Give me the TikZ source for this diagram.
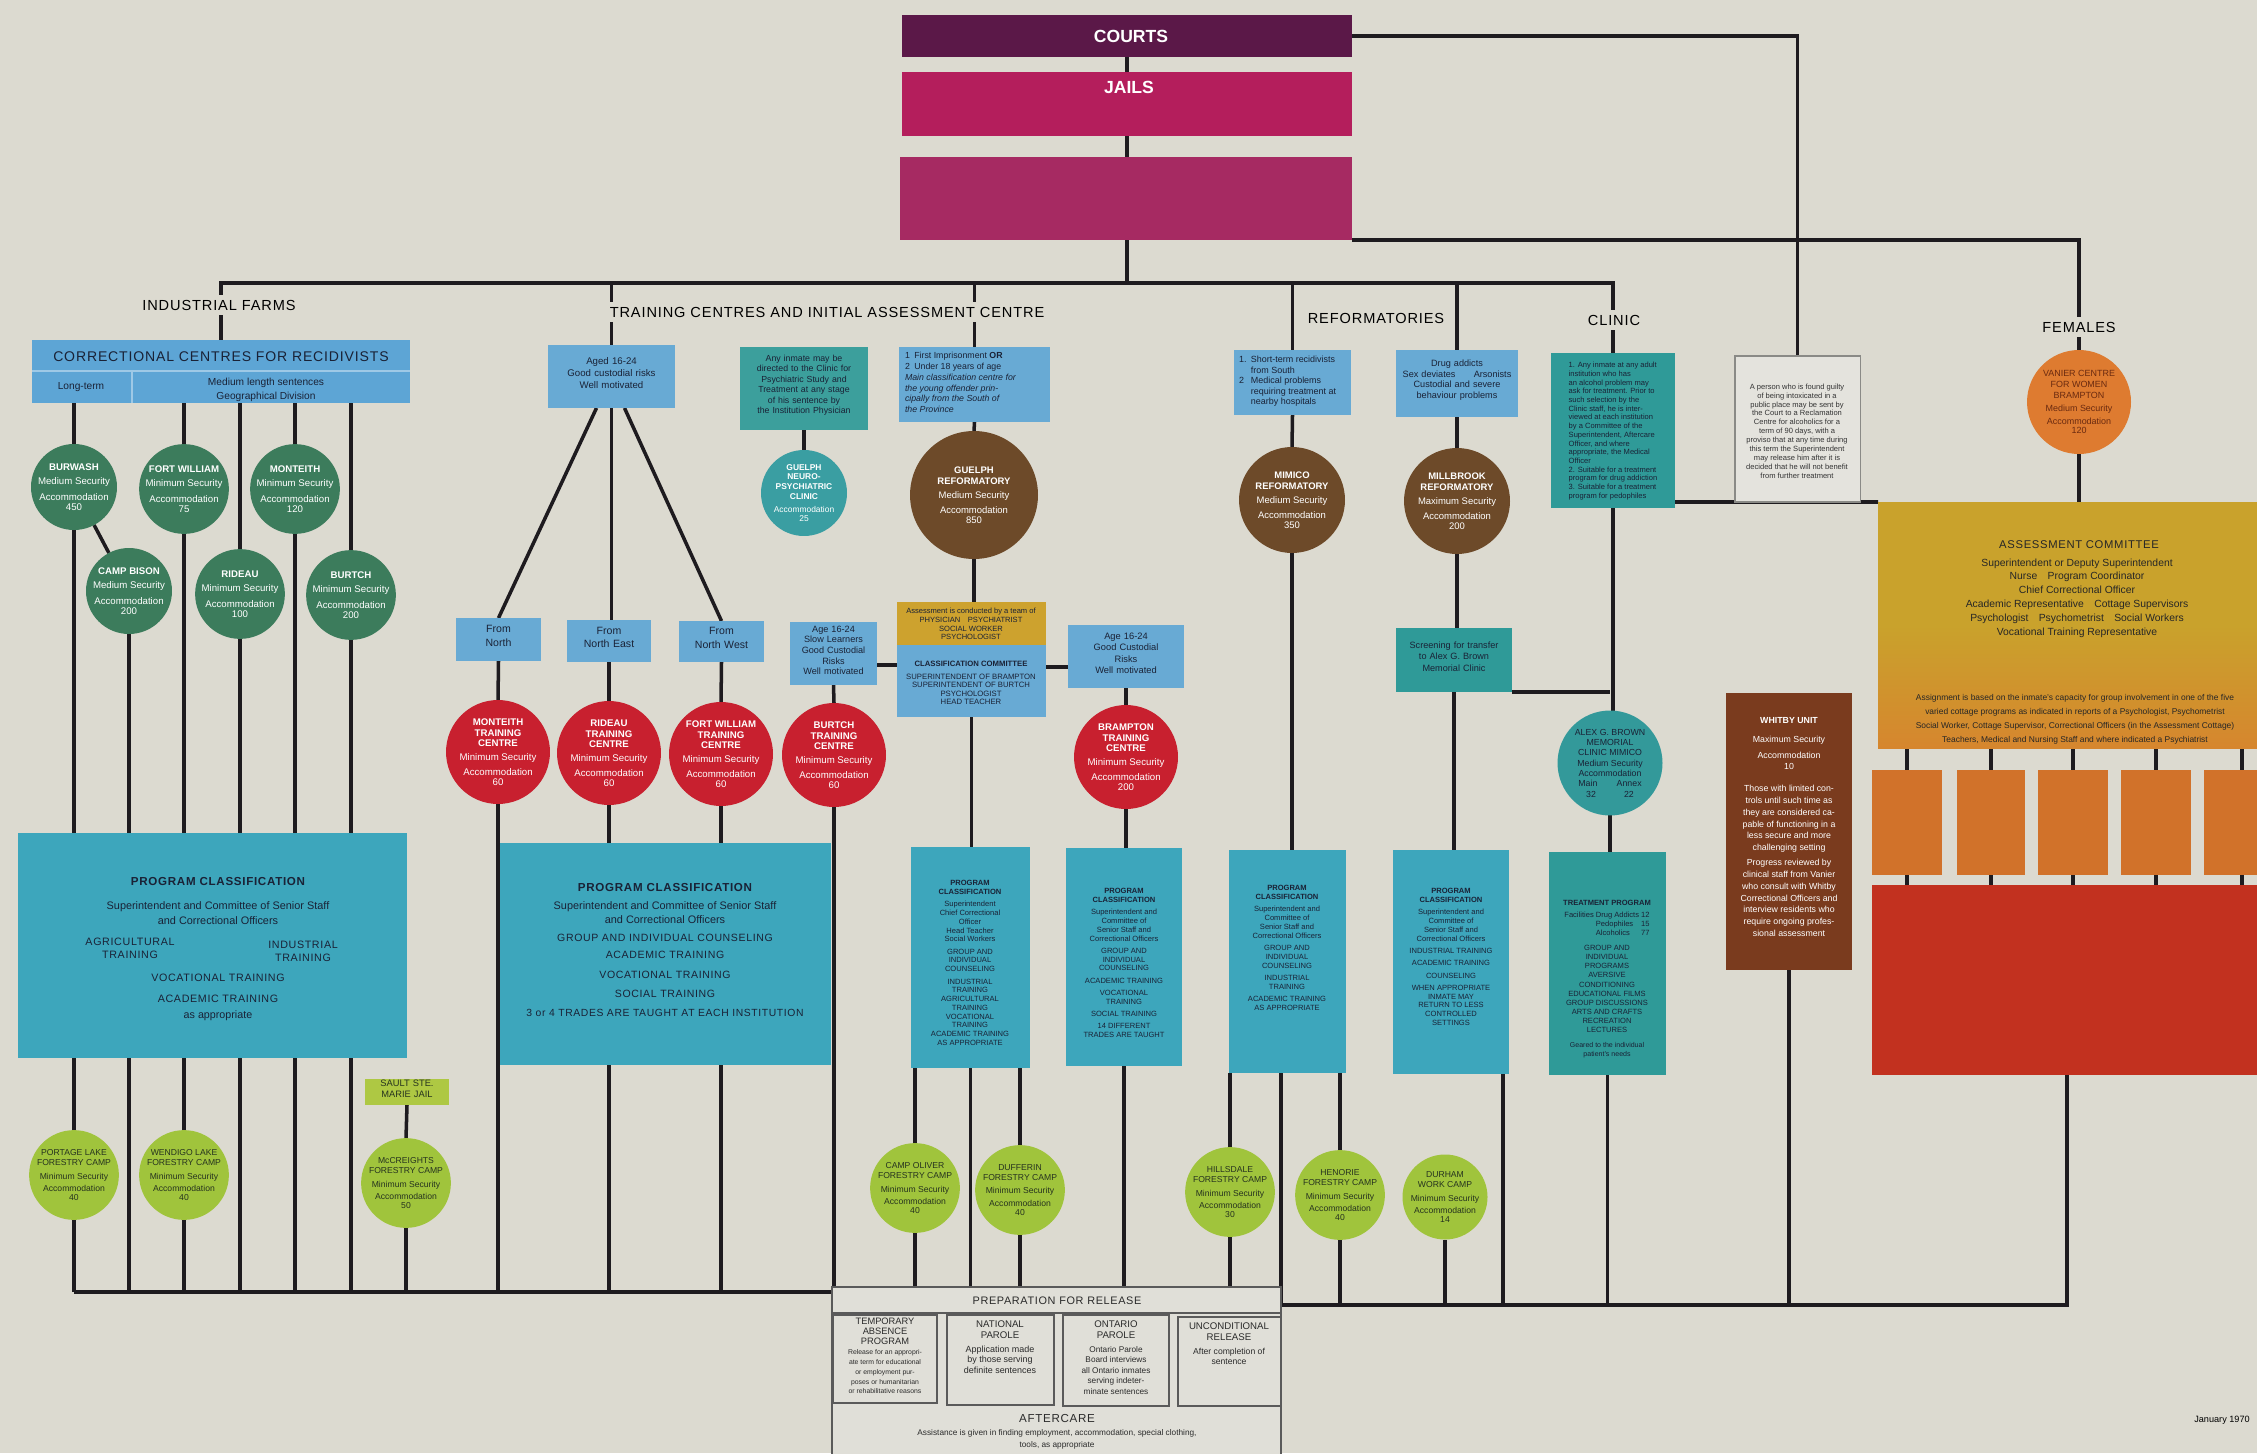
\documentclass[tikz,border=0pt]{standalone}
\usepackage{fontspec}
\setmainfont{Liberation Sans}
\newfontfamily\spc[LetterSpace=6]{Liberation Sans}
\usetikzlibrary{fit}
\pgfdeclarelayer{bg}
\pgfdeclarelayer{lines}
\pgfsetlayers{bg,lines,main}
\definecolor{paper}{HTML}{DCDAD0}
\definecolor{lk}{HTML}{1E1B1F}
\definecolor{navy}{HTML}{1A2236}
\definecolor{ccrc}{HTML}{5DA5D5}
\definecolor{lblue}{HTML}{68AAD4}
\definecolor{pteal}{HTML}{3DA6BC}
\definecolor{dteal}{HTML}{2F9A98}
\definecolor{psteal}{HTML}{3C9F9C}
\definecolor{gcol}{HTML}{3C7C5C}
\definecolor{lcol}{HTML}{A0C43C}
\definecolor{ltx}{HTML}{26331F}
\definecolor{saultc}{HTML}{AEC843}
\definecolor{rcol}{HTML}{C8202F}
\definecolor{brcol}{HTML}{6D4A29}
\definecolor{neuroc}{HTML}{3A9EA2}
\definecolor{alexc}{HTML}{33999A}
\definecolor{vanc}{HTML}{DE7B30}
\definecolor{vantx}{HTML}{6A2A10}
\definecolor{courtc}{HTML}{5B1848}
\definecolor{jailc}{HTML}{B41E5C}
\definecolor{regc}{HTML}{A62A62}
\definecolor{goldc}{HTML}{CDA22E}
\definecolor{acTop}{HTML}{C9A22C}
\definecolor{acBot}{HTML}{D6862E}
\definecolor{whitbyc}{HTML}{7A3B1E}
\definecolor{cotc}{HTML}{D1722A}
\definecolor{redc}{HTML}{C2311F}
\definecolor{notec}{HTML}{E4E3DD}
\definecolor{noted}{HTML}{8A8A86}
\definecolor{prepc}{HTML}{E0DFD8}
\definecolor{prepd}{HTML}{5A5A5A}
\definecolor{prtx}{HTML}{2B2B2B}
\newcommand\fsz[2]{\fontsize{#1}{#2}\selectfont}
% circle text: node font is bold, so name lines are bold; later lines switch back
\newcommand\cirtx[3]{#1\\[1.6pt]\mdseries #2\\[2.6pt]\mdseries Accommodation\\[-0.8pt]\mdseries #3}
\newcommand\limtx[3]{#1\\[2pt]#2\\[1.6pt]Accommodation\\[-0.8pt]#3}
\tikzset{
  ln/.style={draw=lk,line width=2pt},
  fb/.style={inner sep=0pt,outer sep=0pt},
  tx/.style={inner sep=0pt,outer sep=0pt,align=center,text=navy},
  ttl/.style={inner sep=2.5pt,fill=paper,text=black,font=\spc\fsz{8.3}{10}},
  cir/.style={circle,inner sep=0pt,outer sep=0pt,align=center},
  gc/.style={cir,fill=gcol,minimum size=1.72cm,text=white,font=\bfseries\fsz{5.5}{6.5}},
  lc/.style={cir,fill=lcol,minimum size=1.70cm,text=ltx,font=\fsz{4.9}{5.7}},
  rc/.style={cir,fill=rcol,minimum size=2.08cm,text=white,font=\bfseries\fsz{5.5}{6.1}},
  bc/.style={cir,fill=brcol,minimum size=2.12cm,text=white,font=\bfseries\fsz{5.4}{6.2}},
  lb/.style={fb,fill=lblue},
  pb/.style={fb,fill=pteal},
  prb/.style={fb,draw=prepd,line width=0.9pt},
}
\begin{document}
\begin{tikzpicture}[x=0.02cm,y=-0.02cm]
\useasboundingbox (0,0) rectangle (2257,1453);
\begin{pgfonlayer}{bg}
\fill[paper] (0,0) rectangle (2257,1453);
\end{pgfonlayer}

% ===== top boxes
\node[fb,fill=courtc,fit={(902,15)(1352,57)}] (courts) {};
\node[tx,text=white,font=\bfseries\fsz{10}{12}] (courtsT) at (1131,36) {COURTS};
\node[fb,fill=jailc,fit={(902,72)(1352,136)}] (jails) {};
\node[tx,text=white,font=\bfseries\fsz{10}{12}] (jailsT) at (1129,87) {JAILS};
\node[fb,fill=regc,fit={(900,157)(1352,240)}] (reg) {};

% ===== section titles
\node[ttl] (tIF) at (219,305) {INDUSTRIAL FARMS};
\node[ttl] (tTC) at (827,312) {TRAINING CENTRES AND INITIAL ASSESSMENT CENTRE};
\node[ttl] (tRF) at (1376,318) {REFORMATORIES};
\node[ttl] (tCL) at (1614,320) {CLINIC};
\node[ttl] (tFE) at (2079,327) {FEMALES};

% ===== industrial farms
\node[fb,fill=ccrc,fit={(32,340)(410,403)}] (ccr) {};
\draw[draw=ccrc!60!white,line width=0.6pt] (32,371) -- (410,371) (132,371) -- (132,403);
\node[tx,font=\spc\fsz{8}{10}] (ccrT) at (221,357) {CORRECTIONAL CENTRES FOR RECIDIVISTS};
\node[tx,font=\fsz{5.8}{7}] (ccrL) at (81,387) {Long-term};
\node[tx,font=\fsz{5.8}{7.6}] (ccrM) at (266,390) {Medium length sentences\\Geographical Division};

\node[gc] (burwash) at (74,487) {\cirtx{BURWASH}{Medium Security}{450}};
\node[gc] (fortw) at (184,489) {\cirtx{FORT WILLIAM}{Minimum Security}{75}};
\node[gc] (monteith) at (295,489) {\cirtx{MONTEITH}{Minimum Security}{120}};
\node[gc] (campbison) at (129,591) {\cirtx{CAMP BISON}{Medium Security}{200}};
\node[gc] (rideau) at (240,594) {\cirtx{RIDEAU}{Minimum Security}{100}};
\node[gc] (burtch) at (351,595) {\cirtx{BURTCH}{Minimum Security}{200}};

\node[pb,fit={(18,833)(407,1058)}] (pc1) {};
\node[tx,font=\bfseries\spc\fsz{6.6}{8}] (pc1a) at (218,881) {PROGRAM CLASSIFICATION};
\node[tx,font=\fsz{6.2}{8.3}] (pc1b) at (218,913) {Superintendent and Committee of Senior Staff\\and Correctional Officers};
\node[tx,font=\spc\fsz{6.1}{7.4}] (pc1c) at (130,948) {AGRICULTURAL\\TRAINING};
\node[tx,font=\spc\fsz{6.1}{7.4}] (pc1d) at (303,951) {INDUSTRIAL\\TRAINING};
\node[tx,font=\spc\fsz{6.1}{7.4}] (pc1e) at (218,978) {VOCATIONAL TRAINING};
\node[tx,font=\spc\fsz{6.1}{7.4}] (pc1f) at (218,999) {ACADEMIC TRAINING};
\node[tx,font=\fsz{6.1}{7.4}] (pc1g) at (218,1016) {as appropriate};

\node[lc] (portage) at (74,1175) {\limtx{PORTAGE LAKE\\FORESTRY CAMP}{Minimum Security}{40}};
\node[lc] (wendigo) at (184,1175) {\limtx{WENDIGO LAKE\\FORESTRY CAMP}{Minimum Security}{40}};
\node[fb,fill=saultc,fit={(365,1079)(449,1105)},tx,text=ltx,font=\fsz{5.3}{5.9}] (sault) {SAULT STE.\\MARIE JAIL};
\node[lc] (mccreights) at (406,1183) {\limtx{McCREIGHTS\\FORESTRY CAMP}{Minimum Security}{50}};

% ===== training centres
\node[lb,fit={(548,345)(675,408)},tx,font=\fsz{5.5}{6.8}] (aged) {Aged 16-24\\Good custodial risks\\Well motivated};
\node[lb,fit={(456,618)(541,661)},tx,font=\fsz{6}{7.5}] (fromN) {From\\North};
\node[lb,fit={(567,620)(651,662)},tx,font=\fsz{6}{7.5}] (fromNE) {From\\North East};
\node[lb,fit={(679,621)(764,662)},tx,font=\fsz{6}{7.5}] (fromNW) {From\\North West};
\node[rc] (montTC) at (498,752) {\cirtx{MONTEITH\\TRAINING\\CENTRE}{Minimum Security}{60}};
\node[rc] (rideauTC) at (609,753) {\cirtx{RIDEAU\\TRAINING\\CENTRE}{Minimum Security}{60}};
\node[rc] (fwTC) at (721,754) {\cirtx{FORT WILLIAM\\TRAINING\\CENTRE}{Minimum Security}{60}};
\node[rc] (burtchTC) at (834,755) {\cirtx{BURTCH\\TRAINING\\CENTRE}{Minimum Security}{60}};

\node[pb,fit={(500,843)(831,1065)}] (pc2) {};
\node[tx,font=\bfseries\spc\fsz{6.6}{8}] (pc2a) at (665,887) {PROGRAM CLASSIFICATION};
\node[tx,font=\fsz{6.2}{8}] (pc2b) at (665,913) {Superintendent and Committee of Senior Staff\\and Correctional Officers};
\node[tx,font=\spc\fsz{6}{7}] (pc2c) at (665,938) {GROUP AND INDIVIDUAL COUNSELING};
\node[tx,font=\spc\fsz{6}{7}] (pc2d) at (665,955) {ACADEMIC TRAINING};
\node[tx,font=\spc\fsz{6}{7}] (pc2e) at (665,975) {VOCATIONAL TRAINING};
\node[tx,font=\spc\fsz{6}{7}] (pc2f) at (665,994) {SOCIAL TRAINING};
\node[tx,font=\spc\fsz{5.9}{7}] (pc2g) at (665,1013) {3 or 4 TRADES ARE TAUGHT AT EACH INSTITUTION};

\node[fb,fill=psteal,fit={(740,347)(868,430)},tx,font=\fsz{5}{6}] (psych) {Any inmate may be\\directed to the Clinic for\\Psychiatric Study and\\Treatment at any stage\\of his sentence by\\the Institution Physician};
\node[cir,fill=neuroc,minimum size=1.72cm,text=white,font=\bfseries\fsz{4.8}{5.6}] (neuro) at (804,493) {GUELPH\\NEURO-\\PSYCHIATRIC\\CLINIC\\[2pt]\mdseries Accommodation\\[-0.6pt]\mdseries 25};

\node[lb,fit={(899,347)(1050,422)}] (first) {};
\node[tx,align=left,anchor=north west,font=\fsz{5}{6.2}] (firstT) at (905,352) {1\enspace First Imprisonment \textbf{OR}\\2\enspace Under 18 years of age\\\itshape Main classification centre for\\\itshape the young offender prin-\\\itshape cipally from the South of\\\itshape the Province};
\node[bc,minimum size=2.56cm] (guelphR) at (974,495) {\cirtx{GUELPH\\REFORMATORY}{Medium Security}{850}};
\node[fb,fill=goldc,fit={(897,602)(1046,645)}] (assessY) {};
\node[tx,font=\fsz{4.3}{4.9}] (assessYT) at (971,624) {Assessment is conducted by a team of\\PHYSICIAN\quad PSYCHIATRIST\\SOCIAL WORKER\\PSYCHOLOGIST};
\node[lb,fit={(897,645)(1046,717)}] (classC) {};
\node[tx,font=\fsz{4.4}{4.8}] (classCT) at (971,683) {\textbf{CLASSIFICATION COMMITTEE}\\[2.5pt]SUPERINTENDENT OF BRAMPTON\\SUPERINTENDENT OF BURTCH\\PSYCHOLOGIST\\HEAD TEACHER};
\node[lb,fit={(790,622)(877,685)},tx,font=\fsz{5.2}{6.1}] (slow) {Age 16-24\\Slow Learners\\Good Custodial\\Risks\\Well motivated};
\node[lb,fit={(1068,625)(1184,688)},tx,font=\fsz{5.3}{6.6}] (bage) {Age 16-24\\Good Custodial\\Risks\\Well motivated};
\node[rc] (bramTC) at (1126,757) {\cirtx{BRAMPTON\\TRAINING\\CENTRE}{Minimum Security}{200}};

\node[pb,fit={(911,847)(1030,1068)}] (pcG) {};
\node[tx,font=\fsz{4.3}{5}] (pcGT) at (970,963) {\textbf{PROGRAM}\\\textbf{CLASSIFICATION}\\[2pt]Superintendent\\Chief Correctional\\Officer\\Head Teacher\\Social Workers\\[2pt]GROUP AND\\INDIVIDUAL\\COUNSELING\\[2pt]INDUSTRIAL\\TRAINING\\AGRICULTURAL\\TRAINING\\VOCATIONAL\\TRAINING\\ACADEMIC TRAINING\\AS APPROPRIATE};
\node[pb,fit={(1066,848)(1182,1066)}] (pcB) {};
\node[tx,font=\fsz{4.3}{5}] (pcBT) at (1124,963) {\textbf{PROGRAM}\\\textbf{CLASSIFICATION}\\[2pt]Superintendent and\\Committee of\\Senior Staff and\\Correctional Officers\\[2pt]GROUP AND\\INDIVIDUAL\\COUNSELING\\[2pt]ACADEMIC TRAINING\\[2pt]VOCATIONAL\\TRAINING\\[2pt]SOCIAL TRAINING\\[2pt]14 DIFFERENT\\TRADES ARE TAUGHT};
\node[lc] (oliver) at (915,1188) {\limtx{CAMP OLIVER\\FORESTRY CAMP}{Minimum Security}{40}};
\node[lc] (dufferin) at (1020,1190) {\limtx{DUFFERIN\\FORESTRY CAMP}{Minimum Security}{40}};

% ===== preparation for release
\node[prb,fill=prepc,fit={(832,1287)(1281,1470)}] (prep) {};
\draw[draw=prepd,line width=0.9pt] (832,1313) -- (1281,1313);
\node[tx,text=prtx,font=\spc\fsz{6.2}{7}] (prepT) at (1057,1301) {PREPARATION FOR RELEASE};
\node[prb,fit={(833,1315)(937,1403)}] (ta) {};
\node[prb,fit={(947,1315)(1054,1405)}] (np) {};
\node[prb,fit={(1063,1315)(1169,1406)}] (op) {};
\node[prb,fit={(1178,1317)(1281,1406)}] (ur) {};
\node[tx,text=prtx,anchor=north,font=\fsz{5.3}{5.6}] (taT) at (885,1318) {TEMPORARY\\ABSENCE\\PROGRAM\\[0.3pt]\fsz{3.9}{4.6}Release for an appropri-\\\fsz{3.9}{4.6}ate term for educational\\\fsz{3.9}{4.6}or employment pur-\\\fsz{3.9}{4.6}poses or humanitarian\\\fsz{3.9}{4.6}or rehabilitative reasons};
\node[tx,text=prtx,anchor=north,font=\fsz{5.5}{6}] (npT) at (1000,1321) {NATIONAL\\PAROLE\\[2pt]\fsz{5.1}{6}Application made\\\fsz{5.1}{6}by those serving\\\fsz{5.1}{6}definite sentences};
\node[tx,text=prtx,anchor=north,font=\fsz{5.5}{6}] (opT) at (1116,1321) {ONTARIO\\PAROLE\\[2pt]\fsz{4.7}{5.8}Ontario Parole\\\fsz{4.7}{5.8}Board interviews\\\fsz{4.7}{5.8}all Ontario inmates\\\fsz{4.7}{5.8}serving indeter-\\\fsz{4.7}{5.8}minate sentences};
\node[tx,text=prtx,anchor=north,font=\fsz{5.5}{6}] (urT) at (1229,1323) {UNCONDITIONAL\\RELEASE\\[2pt]\fsz{4.9}{6}After completion of\\\fsz{4.9}{6}sentence};
\node[tx,text=prtx,font=\spc\fsz{6.6}{7.5}] (afterT) at (1057,1418) {AFTERCARE};
\node[tx,text=prtx,font=\fsz{4.7}{7}] (afterS) at (1057,1439) {Assistance is given in finding employment, accommodation, special clothing,\\tools, as appropriate};

% ===== reformatories
\node[lb,fit={(1234,350)(1351,415)}] (st) {};
\node[tx,align=left,anchor=north west,font=\fsz{5.1}{6}] (stT) at (1239,356) {1.\enspace Short-term recidivists\\\phantom{1.}\enspace from South\\2\enspace\phantom{.}Medical problems\\\phantom{2.}\enspace requiring treatment at\\\phantom{2.}\enspace nearby hospitals};
\node[lb,fit={(1396,350)(1518,417)},tx,font=\fsz{5.2}{6.1}] (drug) {Drug addicts\\Sex deviates\qquad Arsonists\\Custodial and severe\\behaviour problems};
\node[bc] (mimico) at (1292,500) {\cirtx{MIMICO\\REFORMATORY}{Medium Security}{350}};
\node[bc] (millbrook) at (1457,501) {\cirtx{MILLBROOK\\REFORMATORY}{Maximum Security}{200}};
\node[fb,fill=dteal,fit={(1396,628)(1512,692)},tx,font=\fsz{5.2}{6.4}] (screen) {Screening for transfer\\to Alex G. Brown\\Memorial Clinic};
\node[pb,fit={(1229,850)(1346,1073)}] (pcM) {};
\node[tx,font=\fsz{4.3}{5}] (pcMT) at (1287,948) {\textbf{PROGRAM}\\\textbf{CLASSIFICATION}\\[2pt]Superintendent and\\Committee of\\Senior Staff and\\Correctional Officers\\[2pt]GROUP AND\\INDIVIDUAL\\COUNSELING\\[2pt]INDUSTRIAL\\TRAINING\\[2pt]ACADEMIC TRAINING\\AS APPROPRIATE};
\node[pb,fit={(1393,850)(1509,1074)}] (pcMb) {};
\node[tx,font=\fsz{4.3}{5}] (pcMbT) at (1451,957) {\textbf{PROGRAM}\\\textbf{CLASSIFICATION}\\[2pt]Superintendent and\\Committee of\\Senior Staff and\\Correctional Officers\\[2pt]INDUSTRIAL TRAINING\\[2pt]ACADEMIC TRAINING\\[2pt]COUNSELING\\[2pt]WHEN APPROPRIATE\\INMATE MAY\\RETURN TO LESS\\CONTROLLED\\SETTINGS};
\node[lc] (hillsdale) at (1230,1192) {\limtx{HILLSDALE\\FORESTRY CAMP}{Minimum Security}{30}};
\node[lc] (henorie) at (1340,1195) {\limtx{HENORIE\\FORESTRY CAMP}{Minimum Security}{40}};
\node[lc] (durham) at (1445,1197) {\limtx{DURHAM\\WORK CAMP}{Minimum Security}{14}};

% ===== clinic
\node[fb,fill=dteal,fit={(1551,353)(1675,508)}] (clinic) {};
\node[tx,align=left,font=\fsz{4.3}{4.95}] (clinicT) at (1613,431) {1. Any inmate at any adult\\institution who has\\an alcohol problem may\\ask for treatment. Prior to\\such selection by the\\Clinic staff, he is inter-\\viewed at each institution\\by a Committee of the\\Superintendent, Aftercare\\Officer, and where\\appropriate, the Medical\\Officer\\2. Suitable for a treatment\\program for drug addiction\\3. Suitable for a treatment\\program for pedophiles};
\node[cir,fill=alexc,minimum size=2.1cm,text=navy,font=\fsz{5}{5.8}] (alex) at (1610,763) {ALEX G. BROWN\\MEMORIAL\\CLINIC MIMICO\\[0.5pt]Medium Security\\Accommodation\\Main\hspace{2.2em}Annex\\32\hspace{3.2em}22};
\node[fb,fill=dteal,fit={(1549,852)(1666,1075)}] (treat) {};
\node[tx,font=\fsz{4.3}{5.2}] (treatT) at (1607,979) {\textbf{TREATMENT PROGRAM}\\[2pt]\begin{tabular}{@{}l@{\ }l@{\ }r@{}}Facilities & Drug Addicts & 12\\ & Pedophiles & 15\\ & Alcoholics & 77\end{tabular}\\[3pt]GROUP AND\\INDIVIDUAL\\PROGRAMS\\AVERSIVE\\CONDITIONING\\EDUCATIONAL FILMS\\GROUP DISCUSSIONS\\ARTS AND CRAFTS\\RECREATION\\LECTURES\\[3pt]\fsz{4}{4.8}Geared to the individual\\\fsz{4}{4.8}patient's needs};

% ===== right side
\node[fb,fill=notec,draw=noted,line width=0.6pt,fit={(1735,356)(1860,502)}] (note) {};
\node[tx,text=black!80,font=\fsz{4.3}{5.05}] (noteT) at (1797,431) {A person who is found guilty\\of being intoxicated in a\\public place may be sent by\\the Court to a Reclamation\\Centre for alcoholics for a\\term of 90 days, with a\\proviso that at any time during\\this term the Superintendent\\may release him after it is\\decided that he will not benefit\\from further treatment};
\node[cir,fill=vanc,minimum size=2.08cm,text=vantx,font=\fsz{5.1}{6.3}] (vanier) at (2079,402) {VANIER CENTRE\\FOR WOMEN\\BRAMPTON\\[1pt]Medium Security\\[1pt]Accommodation\\[-0.8pt]120};
\node[fb,top color=acTop,bottom color=acBot,middle color=acTop,fit={(1878,502)(2300,748)}] (ac) {};
\node[tx,text=black!85,font=\spc\fsz{6.4}{8}] (acT) at (2079,545) {ASSESSMENT COMMITTEE};
\node[tx,text=black!85,font=\fsz{5.9}{7.85}] (acM) at (2077,598) {Superintendent or Deputy Superintendent\\Nurse\quad Program Coordinator\\Chief Correctional Officer\\Academic Representative\quad Cottage Supervisors\\Psychologist\quad Psychometrist\quad Social Workers\\Vocational Training Representative};
\node[tx,text=black!85,font=\fsz{4.8}{8}] (acP) at (2075,719) {Assignment is based on the inmate's capacity for group involvement in one of the five\\varied cottage programs as indicated in reports of a Psychologist, Psychometrist\\Social Worker, Cottage Supervisor, Correctional Officers (in the Assessment Cottage)\\Teachers, Medical and Nursing Staff and where indicated a Psychiatrist};
\node[fb,fill=whitbyc,fit={(1726,693)(1852,970)}] (whitby) {};
\node[tx,text=white,font=\fsz{5}{6.7}] (whitbyT) at (1789,827) {\textbf{WHITBY UNIT}\\[4pt]Maximum Security\\[2.5pt]Accommodation\\[-0.5pt]10\\[6pt]Those with limited con-\\trols until such time as\\they are considered ca-\\pable of functioning in a\\less secure and more\\challenging setting\\[2pt]Progress reviewed by\\clinical staff from Vanier\\who consult with Whitby\\Correctional Officers and\\interview residents who\\require ongoing profes-\\sional assessment};
\node[fb,fill=cotc,fit={(1872,770)(1942,875)}] (c1) {};
\node[fb,fill=cotc,fit={(1957,770)(2025,875)}] (c2) {};
\node[fb,fill=cotc,fit={(2038,770)(2108,875)}] (c3) {};
\node[fb,fill=cotc,fit={(2121,770)(2191,875)}] (c4) {};
\node[fb,fill=cotc,fit={(2204,770)(2280,875)}] (c5) {};
\node[fb,fill=redc,fit={(1872,885)(2300,1075)}] (redbox) {};
\node[tx,text=black,font=\fsz{5.2}{6}] (date) at (2222,1420) {January 1970};

% ===== connectors
\begin{pgfonlayer}{lines}
\coordinate (mY) at (0,283);
\coordinate (bly) at (0,1292);
\coordinate (brl) at (2067,1305);
\coordinate (rdrop) at (2067,1075);
\coordinate (ccw) at ([yshift=0.32cm]classC.west);
\coordinate (cce) at ([yshift=0.28cm]classC.east);
\coordinate (cle) at ([yshift=0.12cm]clinic.south east);
\coordinate (mbdrop) at ([xshift=-0.12cm]pcMb.south east);
% trunk
\draw[ln] (courts.south) -- (courts.south |- mY);
\draw[ln] (ccr.north) |- (clinic.north |- mY) -- (clinic.north);
\draw[ln] (aged.north) -- (aged.north |- mY);
\draw[ln] (first.north) -- (first.north |- mY);
\draw[ln] (st.north) -- (st.north |- mY);
\draw[ln] (drug.north) -- (drug.north |- mY);
\draw[ln] (courts.east) -| (note.north);
\draw[ln] (reg.south east) -| (vanier.north);
\draw[ln] (vanier.south) -- (vanier.south |- ac.north);
\draw[ln] (cle) -- (ac.north west);
% industrial farms
\foreach \n in {burwash,fortw,rideau,monteith,burtch}{
  \draw[ln] (ccr.south -| \n) -- (\n.north);
  \draw[ln] (\n.south) -- (\n.south |- pc1.north);}
\draw[ln] (burwash) -- (campbison);
\draw[ln] (campbison.south) -- (campbison.south |- pc1.north);
\foreach \n in {portage,wendigo}{
  \draw[ln] (pc1.south -| \n) -- (\n.north);
  \draw[ln] (\n.south) -- (\n.south |- bly);}
\foreach \n in {campbison,rideau,monteith,burtch}{
  \draw[ln] (pc1.south -| \n) -- (\n |- bly);}
\draw[ln] (sault.south) -- (mccreights.north);
\draw[ln] (mccreights.south) -- (mccreights.south |- bly);
\draw[ln] (portage.south |- bly) -- (prep.west |- bly);
% training centres
\draw[ln] ([xshift=-0.3cm]aged.south) -- (fromN.north);
\draw[ln] (aged.south) -- (aged.south |- fromNE.north);
\draw[ln] ([xshift=0.26cm]aged.south) -- (fromNW.north);
\draw[ln] (fromN.south) -- (montTC.north);
\draw[ln] (fromNE.south) -- (rideauTC.north);
\draw[ln] (fromNW.south) -- (fwTC.north);
\draw[ln] (montTC.south) -- (montTC.south |- bly);
\foreach \n in {rideauTC,fwTC}{
  \draw[ln] (\n.south) -- (\n.south |- pc2.north);
  \draw[ln] (pc2.south -| \n) -- (\n |- bly);}
\draw[ln] (psych.south) -- (neuro.north);
\draw[ln] (first.south) -- (guelphR.north);
\draw[ln] (guelphR.south) -- (guelphR.south |- assessY.north);
\draw[ln] (slow.south) -- (burtchTC.north);
\draw[ln] (ccw) -- (ccw -| slow.east);
\draw[ln] (cce) -- (cce -| bage.west);
\draw[ln] (bage.south) -- (bramTC.north);
\draw[ln] (bramTC.south) -- (bramTC.south |- pcB.north);
\draw[ln] (classC.south) -- (classC.south |- pcG.north);
\draw[ln] (burtchTC.south) -- (burtchTC.south |- prep.north);
\foreach \n in {oliver,dufferin}{
  \draw[ln] (pcG.south -| \n) -- (\n.north);
  \draw[ln] (\n.south) -- (\n.south |- prep.north);}
\draw[ln] (pcG.south) -- (pcG.south |- prep.north);
\draw[ln] (pcB.south) -- (pcB.south |- prep.north);
% reformatories and clinic
\draw[ln] (st.south) -- (mimico.north);
\draw[ln] (mimico.south) -- (mimico.south |- pcM.north);
\draw[ln] (drug.south) -- (millbrook.north);
\draw[ln] (millbrook.south) -- (millbrook.south |- screen.north);
\draw[ln] (screen.south) -- (screen.south |- pcMb.north);
\draw[ln] (screen.south east) -- (screen.south east -| alex.north);
\draw[ln] (clinic.south) -- (clinic.south |- alex.north);
\draw[ln] (alex.south) -- (alex.south |- treat.north);
\draw[ln] (pcM.south -| hillsdale) -- (hillsdale.north);
\draw[ln] (hillsdale.south) -- (hillsdale.south |- prep.north);
\draw[ln] (pcM.south -| prep.east) -- (prep.east |- brl) -- (brl) -- (rdrop);
\draw[ln] (pcM.south -| henorie) -- (henorie.north);
\draw[ln] (henorie.south) -- (henorie.south |- brl);
\draw[ln] (durham.south) -- (durham.south |- brl);
\draw[ln] (mbdrop) -- (mbdrop |- brl);
\draw[ln] (treat.south) -- (treat.south |- brl);
\draw[ln] (whitby.south) -- (whitby.south |- brl);
\foreach \c in {c1,c2,c3,c4,c5}{
  \draw[ln] (ac.south -| \c) -- (\c.north);
  \draw[ln] (\c.south) -- (\c.south |- redbox.north);}
\end{pgfonlayer}
\end{tikzpicture}
\end{document}
